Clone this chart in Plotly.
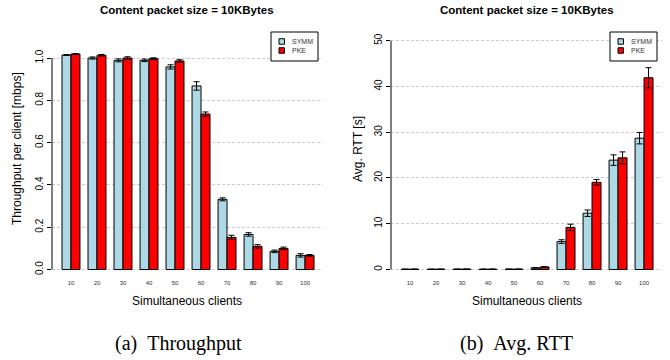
import plotly.graph_objects as go

clients = ["10", "20", "30", "40", "50", "60", "70", "80", "90", "100"]

thr_symm = [1.014, 1.000, 0.989, 0.989, 0.958, 0.868, 0.332, 0.166, 0.086, 0.067]
thr_symm_err = [0.002, 0.005, 0.007, 0.006, 0.010, 0.020, 0.007, 0.008, 0.006, 0.008]
thr_pke = [1.019, 1.013, 1.000, 0.997, 0.986, 0.735, 0.152, 0.110, 0.100, 0.067]
thr_pke_err = [0.002, 0.004, 0.006, 0.004, 0.006, 0.010, 0.010, 0.008, 0.006, 0.004]

rtt_symm = [0.05, 0.05, 0.06, 0.05, 0.06, 0.35, 6.1, 12.3, 23.9, 28.7]
rtt_symm_err = [0.01, 0.01, 0.01, 0.01, 0.01, 0.05, 0.4, 0.7, 1.15, 1.25]
rtt_pke = [0.06, 0.06, 0.07, 0.06, 0.07, 0.55, 9.2, 19.05, 24.4, 41.9]
rtt_pke_err = [0.01, 0.01, 0.01, 0.01, 0.01, 0.06, 0.7, 0.6, 1.3, 2.2]

series_names = ["SYMM", "PKE"]
series_colors = ["#ADD8E6", "#FF0000"]

W, H = 670, 360
def px_x(p):
    return p / W
def px_y(p):
    return 1 - p / H

fig = go.Figure()

def add_bars(vals, errs, name, color, xa, ya):
    fig.add_trace(go.Bar(
        x=clients, y=vals, name=name, xaxis=xa, yaxis=ya, showlegend=False,
        marker=dict(color=color, line=dict(color="#000000", width=1)),
        error_y=dict(type="data", array=errs, visible=True, color="#000000",
                     thickness=1, width=3),
    ))

add_bars(thr_symm, thr_symm_err, series_names[0], series_colors[0], "x", "y")
add_bars(thr_pke, thr_pke_err, series_names[1], series_colors[1], "x", "y")
add_bars(rtt_symm, rtt_symm_err, series_names[0], series_colors[0], "x2", "y2")
add_bars(rtt_pke, rtt_pke_err, series_names[1], series_colors[1], "x2", "y2")

ydom = [px_y(278), px_y(32)]
xcommon = dict(type="category", range=[-0.73, 9.69], showline=False, ticks="",
               showgrid=False, zeroline=False,
               tickfont=dict(family="Liberation Sans, Arial", size=6, color="#333333"))
ycommon = dict(showline=False, ticks="outside", ticklen=4, tickcolor="#000000",
               showgrid=True, gridcolor="#cccccc", griddash="3px,2px", gridwidth=1,
               zeroline=False, tickangle=-90,
               tickfont=dict(family="Liberation Sans, Arial", size=10, color="#000000"))

fig.update_layout(
    width=W, height=H, margin=dict(l=0, r=0, t=0, b=0),
    paper_bgcolor="#ffffff", plot_bgcolor="#ffffff",
    barmode="group", bargap=0.31, bargroupgap=0,
    xaxis=dict(domain=[px_x(52), px_x(323)], anchor="y", **xcommon),
    yaxis=dict(domain=ydom, anchor="x", range=[-0.040, 1.123],
               tickvals=[0, 0.2, 0.4, 0.6, 0.8, 1.0],
               ticktext=["0.0", "0.2", "0.4", "0.6", "0.8", "1.0"], **ycommon),
    xaxis2=dict(domain=[px_x(391), px_x(662)], anchor="y2", **xcommon),
    yaxis2=dict(domain=ydom, anchor="x2", range=[-1.86, 51.9],
                tickvals=[0, 10, 20, 30, 40, 50], **ycommon),
    showlegend=False,
)

# R-style axis lines spanning first to last tick
fig.add_shape(type="line", xref="x domain", yref="y", x0=0, x1=0, y0=0, y1=1.0,
              line=dict(color="#000000", width=1))
fig.add_shape(type="line", xref="x2 domain", yref="y2", x0=0, x1=0, y0=0, y1=50,
              line=dict(color="#000000", width=1))

title_font = dict(family="Liberation Sans, Arial", size=11.5, color="#000000")
label_font = dict(family="Liberation Sans, Arial", size=12, color="#000000")
cap_font = dict(family="Liberation Serif, Times New Roman", size=20, color="#000000")
leg_font = dict(family="Liberation Sans, Arial", size=7, color="#333333")

for cx, ylab, lx, ly, cap, capx, legx in [
    (187.5, "Throughput per client [mbps]", 17, 149, "(a)\u00a0\u00a0Throughput", 178.5, 271),
    (526.5, "Avg. RTT [s]", 358, 149, "(b)\u00a0\u00a0Avg. RTT", 516.5, 610),
]:
    fig.add_annotation(text="<b>Content packet size = 10KBytes</b>", x=px_x(cx), y=px_y(10),
                       xref="paper", yref="paper", showarrow=False, font=title_font,
                       xanchor="center", yanchor="middle")
    fig.add_annotation(text="Simultaneous clients", x=px_x(cx), y=px_y(301),
                       xref="paper", yref="paper", showarrow=False, font=label_font,
                       xanchor="center", yanchor="middle")
    fig.add_annotation(text=ylab, x=px_x(lx), y=px_y(ly), textangle=-90,
                       xref="paper", yref="paper", showarrow=False, font=label_font,
                       xanchor="center", yanchor="middle")
    fig.add_annotation(text=cap, x=px_x(capx), y=px_y(343),
                       xref="paper", yref="paper", showarrow=False, font=cap_font,
                       xanchor="center", yanchor="middle")
    # legend box
    fig.add_shape(type="rect", xref="paper", yref="paper",
                  x0=px_x(legx), x1=px_x(legx + 47), y0=px_y(61), y1=px_y(32),
                  line=dict(color="#000000", width=1), fillcolor="#ffffff", layer="above")
    for i, (nm, col) in enumerate(zip(series_names, series_colors)):
        cy = 41.5 + 9 * i
        fig.add_shape(type="rect", xref="paper", yref="paper",
                      x0=px_x(legx + 8), x1=px_x(legx + 13.5),
                      y0=px_y(cy + 2.75), y1=px_y(cy - 2.75),
                      line=dict(color="#000000", width=1), fillcolor=col, layer="above")
        fig.add_annotation(text=nm, x=px_x(legx + 19), y=px_y(cy),
                           xref="paper", yref="paper", showarrow=False, font=leg_font,
                           xanchor="left", yanchor="middle")

fig.write_html("out.html", config={"displayModeBar": False},
               post_script="document.body.style.margin='0';document.body.style.overflow='hidden';")
